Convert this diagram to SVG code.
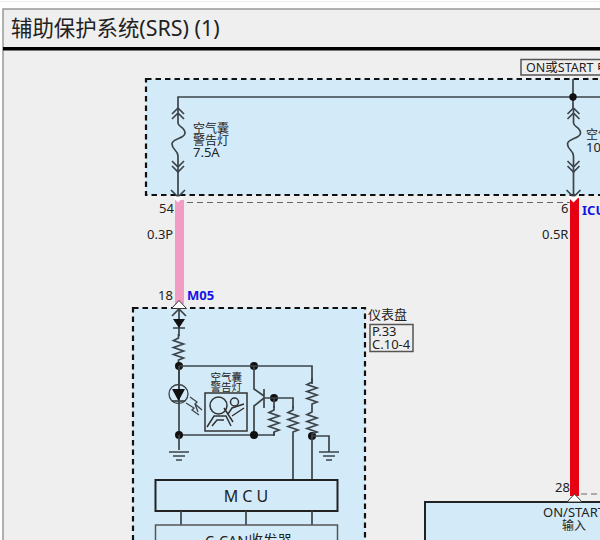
<svg xmlns="http://www.w3.org/2000/svg" width="600" height="540" viewBox="0 0 600 540">
<style>
text{font-family:"Noto Sans","Noto Sans CJK SC",sans-serif;fill:#222}
.w{fill:none;stroke:#3c4448;stroke-width:1.7}
.t{fill:none;stroke:#3c4448;stroke-width:1.3}
.d{fill:#d3ebf9;stroke:#111;stroke-width:2.2;stroke-dasharray:5.500 4}
.b{fill:#111}
.s{font-size:12px}
.m{font-size:13px}
.lbl{font-size:13px;font-weight:700;fill:#1414e6}
.thin{fill:none;stroke:#666;stroke-width:1;stroke-dasharray:6 4}
.ic{fill:none;stroke:#333;stroke-width:1.500}
</style>
<defs>
<g id="fuse"><path class="w" d="M0 -6L-6 0M0 -6L6 0M0 -1L-6 5M0 -1L6 5M0 -6V9C0 13 7 13 7 19C7 25 -6 24 -6 30C-6 36 0 36 0 42V59M-6 47L0 53L6 47M-6 52L0 58L6 52"/></g>
<path id="res" class="w" d="M0 0V4L-5 6.500L5 10L-5 13.500L5 17L-5 20.500L5 24L0 26V30"/>
<g id="gnd"><path class="w" d="M-10 0H10M-6 4H6M-3 8H3"/></g>
<path id="cv" d="M-7.500 8L0 0L7.500 8Z" fill="#fff" stroke="#333" stroke-width="1"/>
</defs>
<rect width="600" height="540" fill="#fff"/>
<path d="M0 1.500H600" stroke="#eee" stroke-width="1"/>
<rect x="3" y="9" width="600" height="535" fill="#efefef" stroke="#999" stroke-width="1.500"/>
<rect x="3" y="47" width="597" height="3.500" fill="#000"/>
<text x="11" y="36" font-size="21.400">辅助保护系统(SRS) (1)</text>
<g id="connectors">
<rect x="175" y="200" width="9" height="104" fill="#f09cc4"/>
<rect x="570" y="198" width="9" height="298" fill="#e60012"/>
<path class="thin" d="M187 202.500H570"/>
<path class="thin" d="M581 494H600"/>
</g>
<g id="top-panel">
<rect class="d" x="146" y="79" width="470" height="116"/>
<path class="w" d="M178 108V97H600M573 79V108"/>
<circle class="b" cx="573" cy="97" r="3.700"/>
<use href="#fuse" x="178" y="114"/>
<use href="#fuse" x="573.500" y="114"/>
<path class="w" d="M178 172V198M573.500 172V198M171 190L178 197L185 190M566.500 190L573.500 197L580.500 190"/>
<path d="M172 196.500H184L178 202.500Z" fill="#fff"/>
<path d="M567.500 196.500H579.500L573.500 202.500Z" fill="#fff"/>
<text class="s" x="193" y="133">空气囊</text>
<text class="s" x="193" y="145">警告灯</text>
<text class="m" x="193" y="157">7.5A</text>
<text class="s" x="586" y="139">空气囊</text>
<text class="m" x="586" y="152">10A</text>
</g>
<g id="on-start-label">
<rect x="521" y="59.500" width="100" height="15.500" fill="#efefef" stroke="#555" stroke-width="1.500"/>
<text x="526" y="72" font-size="12.500">ON或START 电源</text>
</g>
<g id="wire-labels">
<text class="m" x="159" y="213">54</text>
<text class="m" x="147" y="239">0.3P</text>
<text class="m" x="561" y="213">6</text>
<text class="m" x="542" y="239">0.5R</text>
<text class="lbl" x="582" y="215">ICU</text>
<text class="m" x="158" y="300">18</text>
<text class="lbl" x="187" y="300">M05</text>
<text class="m" x="555" y="492">28</text>
</g>
<g id="cluster">
<rect class="d" x="133" y="308" width="232" height="250"/>
<use href="#cv" x="179" y="300.500"/>
<path class="w" d="M172 316L179 309L186 316M179 309V336M173 328H185M179 366V400"/>
<path class="b" d="M173 319H185L179 328Z"/>
<use href="#res" x="178.500" y="334"/>
<circle class="b" cx="179" cy="366" r="4"/>
<circle class="b" cx="254" cy="366" r="4"/>
<path class="w" d="M179 366H312V384M254 366V389L264 396M264 389V408M264 398L254 406V435M179 366V435H254H274"/>
<circle class="t" cx="178.500" cy="394" r="9.500"/>
<path class="b" d="M172 389H185L178.500 401Z"/>
<path class="w" d="M172 401H185"/>
<path class="t" d="M190 397L197 402L195 404L202 410M195 404L198 412M186 403L194 408L192 410L199 415"/>
<rect x="205" y="393" width="42" height="38" fill="#d3ebf9" stroke="#333" stroke-width="1.500"/>
<circle class="ic" cx="218.500" cy="405.500" r="8.500"/>
<circle class="ic" cx="234.500" cy="402" r="4"/>
<path class="ic" d="M207 427L214 416H226L231 426M212 426L217 420H224M228 414L232 408L244 404M232 416L244 408M224 408L233 422"/>
<text x="210.500" y="381" font-size="10.500">空气囊</text>
<text x="210.500" y="391" font-size="10.500">警告灯</text>
<circle class="b" cx="179" cy="435" r="4"/>
<circle class="b" cx="254" cy="435" r="4"/>
<circle class="b" cx="274" cy="398" r="4"/>
<circle class="b" cx="312" cy="436" r="4"/>
<path class="w" d="M264 398H293V408M274 398V408M179 435V450"/>
<use href="#res" x="274" y="406"/>
<path class="w" d="M274 432V435"/>
<use href="#res" x="293" y="406"/>
<path class="w" d="M293 436V480"/>
<use href="#res" x="312" y="378"/>
<use href="#res" x="312" y="408"/>
<path class="w" d="M312 436V480M312 436H329V452"/>
<use href="#gnd" x="179" y="452"/>
<use href="#gnd" x="329" y="452"/>
<rect x="155.500" y="480" width="182" height="31" fill="#d3ebf9" stroke="#222" stroke-width="2"/>
<text x="248" y="502" font-size="16" text-anchor="middle" letter-spacing="4">MCU</text>
<path class="w" d="M181 511V525M246 511V525M312 511V525"/>
<rect x="155.500" y="525" width="182" height="30" fill="#d3ebf9" stroke="#555" stroke-width="1.500"/>
<text x="248.500" y="546" font-size="14.500" text-anchor="middle">C-CAN收发器</text>
</g>
<g id="cluster-label">
<text class="m" x="368" y="319">仪表盘</text>
<rect x="370" y="324.500" width="43" height="27" fill="#efefef" stroke="#555" stroke-width="1.500"/>
<text class="m" x="372" y="336">P.33</text>
<text class="m" x="372" y="349">C.10-4</text>
</g>
<g id="icu">
<rect x="425" y="502" width="200" height="60" fill="#d3ebf9" stroke="#222" stroke-width="2"/>
<use href="#cv" x="574.500" y="494"/>
<text class="m" x="574" y="517" text-anchor="middle">ON/START</text>
<text class="s" x="574" y="530" text-anchor="middle">输入</text>
</g>
</svg>
